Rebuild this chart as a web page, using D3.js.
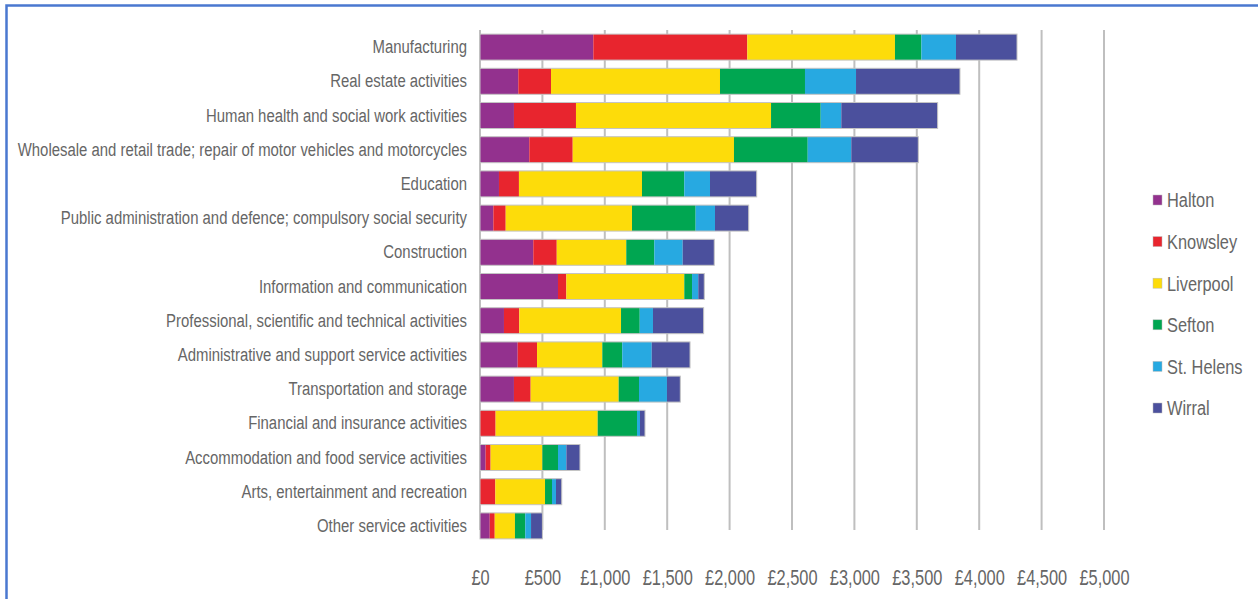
<!DOCTYPE html>
<html>
<head>
<meta charset="utf-8">
<script src="https://cdn.jsdelivr.net/npm/d3@7/dist/d3.min.js"></script>
<style>
  html, body { margin: 0; padding: 0; background: #fff; }
  svg { display: block; }
  text { font-family: "Liberation Sans", Arial, sans-serif; fill: #666; }
</style>
</head>
<body>
<svg id="chart" width="1258" height="599"></svg>
<script>
const categories = [
  "Manufacturing",
  "Real estate activities",
  "Human health and social work activities",
  "Wholesale and retail trade; repair of motor vehicles and motorcycles",
  "Education",
  "Public administration and defence; compulsory social security",
  "Construction",
  "Information and communication",
  "Professional, scientific and technical activities",
  "Administrative and support service activities",
  "Transportation and storage",
  "Financial and insurance activities",
  "Accommodation and food service activities",
  "Arts, entertainment and recreation",
  "Other service activities"
];
const seriesNames = ["Halton", "Knowsley", "Liverpool", "Sefton", "St. Helens", "Wirral"];
const halton    = [908, 307, 272, 395, 152, 107, 427, 625, 192, 302, 272, 0, 45, 0, 78];
const knowsley  = [1234, 262, 497, 348, 160, 99, 188, 67, 123, 155, 134, 125, 40, 123, 40];
const liverpool = [1183, 1354, 1563, 1292, 986, 1012, 557, 945, 815, 523, 705, 818, 415, 398, 162];
const sefton    = [212, 681, 398, 591, 339, 510, 225, 62, 150, 160, 163, 315, 125, 56, 83];
const stHelens  = [277, 409, 165, 349, 206, 155, 227, 50, 106, 236, 224, 24, 67, 32, 46];
const wirral    = [489, 833, 772, 537, 374, 270, 253, 48, 406, 307, 107, 40, 109, 46, 91];
const tickValues = [0, 500, 1000, 1500, 2000, 2500, 3000, 3500, 4000, 4500, 5000];
const colors = ["#93318e", "#e8252e", "#fddc0a", "#00a651", "#27a9e1", "#4b509d"];

const seriesValues = [halton, knowsley, liverpool, sefton, stHelens, wirral];
const table = categories.map((c, i) => {
  const row = { category: c };
  seriesNames.forEach((s, j) => row[s] = seriesValues[j][i]);
  return row;
});

const svg = d3.select("#chart");
const margin = { left: 480, top: 30, right: 154, bottom: 56 };
const W = 1258, H = 599;

const x = d3.scaleLinear().domain([0, 5000]).range([margin.left, W - margin.right]);
const y = d3.scaleBand().domain(categories).range([margin.top, H - margin.bottom]).paddingInner(0.24).paddingOuter(0.12);
const color = d3.scaleOrdinal().domain(seriesNames).range(colors);

// border
svg.append("path")
  .attr("d", `M6.5,${H} L6.5,5.5 L${W},5.5`)
  .attr("fill", "none").attr("stroke", "#4a78d0").attr("stroke-width", 2.5);

// gridlines
svg.append("g").selectAll("line").data(tickValues).join("line")
  .attr("x1", d => x(d)).attr("x2", d => x(d))
  .attr("y1", margin.top).attr("y2", H - margin.bottom - 13)
  .attr("stroke", "#bfbfbf").attr("stroke-width", 2);

// stacked bars
const stack = d3.stack().keys(seriesNames)(table);
svg.append("g").selectAll("g").data(stack).join("g")
  .attr("fill", d => color(d.key))
  .selectAll("rect").data(d => d).join("rect")
  .attr("x", d => x(d[0]))
  .attr("width", d => Math.max(0, x(d[1]) - x(d[0])))
  .attr("y", d => y(d.data.category))
  .attr("height", y.bandwidth());

// bar outlines
svg.append("g").selectAll("rect").data(table).join("rect")
  .attr("x", x(0))
  .attr("width", d => x(d3.sum(seriesNames, s => d[s])) - x(0))
  .attr("y", d => y(d.category))
  .attr("height", y.bandwidth())
  .attr("fill", "none").attr("stroke", "#c4c4c4").attr("stroke-width", 1);

// category axis labels
const SY = 0.785;
const yAxis = d3.axisLeft(y).tickSize(0).tickPadding(0);
const gy = svg.append("g").attr("transform", `translate(${margin.left},0)`).call(yAxis);
gy.select(".domain").remove();
gy.selectAll("text").style("font-size", "19px").attr("fill", "#666")
  .attr("x", -13 / SY)
  .attr("transform", `scale(${SY},1)`);

// x axis labels
const SXT = 0.745;
const xAxis = d3.axisBottom(x).tickValues(tickValues).tickSize(0).tickPadding(0)
  .tickFormat(d => "£" + d3.format(",")(d));
const gx = svg.append("g").attr("transform", `translate(0,${H - 21})`).call(xAxis);
gx.select(".domain").remove();
gx.selectAll("text").style("font-size", "22px").attr("fill", "#666").attr("dy", "0.32em")
  .attr("transform", `scale(${SXT},1)`);

// legend
const SL = 0.78;
const legend = svg.append("g").attr("transform", "translate(1153,200)");
const li = legend.selectAll("g").data(seriesNames).join("g")
  .attr("transform", (d, i) => `translate(0,${i * 41.6})`);
li.append("rect").attr("x", 0).attr("y", -5).attr("width", 9).attr("height", 10)
  .attr("fill", d => color(d)).attr("stroke", "#bbb").attr("stroke-width", 0.5);
li.append("text").attr("x", 14 / SL).attr("dy", "0.35em").text(d => d)
  .attr("transform", `scale(${SL},1)`)
  .style("font-size", "21px");
</script>
</body>
</html>
